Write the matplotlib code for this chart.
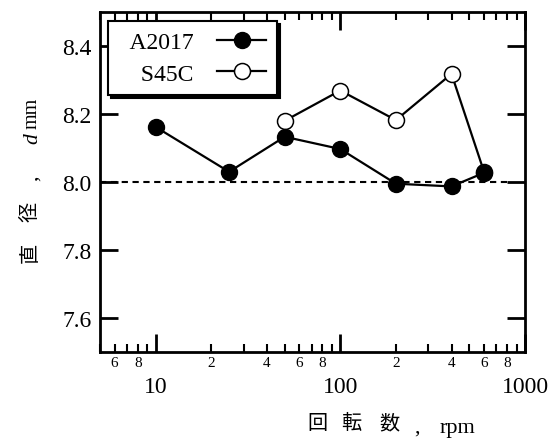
import math
import matplotlib
matplotlib.use("Agg")
import matplotlib.pyplot as plt
from matplotlib.ticker import LogLocator, FixedLocator, FuncFormatter
from matplotlib.lines import Line2D

plt.rcParams['font.family'] = ['Liberation Serif', 'Noto Sans CJK JP']

# data
rpm_a = [10, 25, 50, 100, 200, 400, 600]
d_a = [8.162, 8.030, 8.133, 8.097, 7.995, 7.987, 8.027]
rpm_s = [50, 100, 200, 400, 600]
d_s = [8.180, 8.269, 8.182, 8.318, 8.030]
labels = ["A2017", "S45C"]
major_labels = ["10", "100", "1000"]
y_ticks = [7.6, 7.8, 8.0, 8.2, 8.4]
y_ticklabels = ["7.6", "7.8", "8.0", "8.2", "8.4"]

W, H = 558, 439
fig = plt.figure(figsize=(W / 100, H / 100), dpi=100)
ax = fig.add_axes([100 / W, 1 - 353 / H, 425 / W, 340 / H])

ax.hlines(8.0, 5, 820, colors='black', linestyles=(0, (3, 2.2)), linewidth=1.5, zorder=1)
ax.plot(rpm_s, d_s, color='black', lw=1.6, marker='o', ms=11.5, mfc='white', mec='black', mew=1.1, zorder=2)
ax.plot(rpm_a, d_a, color='black', lw=1.6, marker='o', ms=11.5, mfc='black', mec='black', zorder=3)

ax.set_xscale('log')
ax.set_xlim(5, 1000)
ax.set_ylim(7.5, 8.5)
ax.set_yticks(y_ticks)
ax.set_yticklabels(y_ticklabels)
ax.xaxis.set_major_locator(FixedLocator([10, 100, 1000]))
ax.set_xticklabels(major_labels)
ax.xaxis.set_minor_locator(LogLocator(base=10, subs=(2, 3, 4, 5, 6, 7, 8, 9)))


def minor_fmt(x, pos):
    m = int(round(x / 10 ** math.floor(math.log10(x) + 1e-9)))
    return str(m) if m in (2, 4, 6, 8) else ""


ax.xaxis.set_minor_formatter(FuncFormatter(minor_fmt))

for s in ax.spines.values():
    s.set_linewidth(2)
ax.tick_params(axis='both', which='major', direction='in', length=13, width=2,
               top=True, right=True)
ax.tick_params(axis='both', which='minor', direction='in', length=6, width=1.5,
               top=True, right=True)
ax.tick_params(axis='x', which='major', labelsize=17, pad=17)
ax.tick_params(axis='x', which='minor', labelsize=11, pad=3)
ax.tick_params(axis='y', which='major', labelsize=17, pad=6)
ax.tick_params(axis='y', which='minor', left=False, right=False)


def px(x, y):
    return x / W, 1 - y / H


# x label pieces
cjk = dict(family=['Noto Sans CJK JP'], fontsize=14.5, ha='center', va='center')
for ch, cx in [("回", 317), ("転", 351), ("数", 389)]:
    fig.text(*px(cx, 424), ch, **cjk)
fig.text(*px(414, 433), ",", fontsize=16, ha='left', va='baseline')
fig.text(*px(440, 433), "rpm", fontsize=16, ha='left', va='baseline')

# y label pieces (rotated)
for ch, cy in [("直", 253), ("径", 212)]:
    fig.text(*px(30, cy), ch, rotation=90, **cjk)
fig.text(*px(37, 181), ",", fontsize=16, rotation=90, rotation_mode='anchor',
         ha='left', va='baseline')
fig.text(*px(37, 144), "d", fontsize=15.5, style='italic', rotation=90,
         rotation_mode='anchor', ha='left', va='baseline')
fig.text(*px(37, 129), "mm", fontsize=14.5, rotation=90, rotation_mode='anchor',
         ha='left', va='baseline')

handles = [Line2D([], [], color='black', lw=1.6, marker='o', ms=11.5, mfc='black'),
           Line2D([], [], color='black', lw=1.6, marker='o', ms=11.5, mfc='white', mew=1.1)]
leg = ax.legend(handles, ["  " + l for l in labels], loc='upper left',
                bbox_to_anchor=((108 - 100) / 425, 1 - (22 - 13) / 340),
                borderaxespad=0, markerfirst=False, fontsize=17, frameon=True,
                fancybox=False, shadow={'color': 'black', 'alpha': 1},
                edgecolor='black', framealpha=1, handlelength=2.1,
                borderpad=0.45, labelspacing=0.42, handletextpad=1.0)
leg.get_frame().set_linewidth(1.5)

fig.savefig("out.png", dpi=100)
